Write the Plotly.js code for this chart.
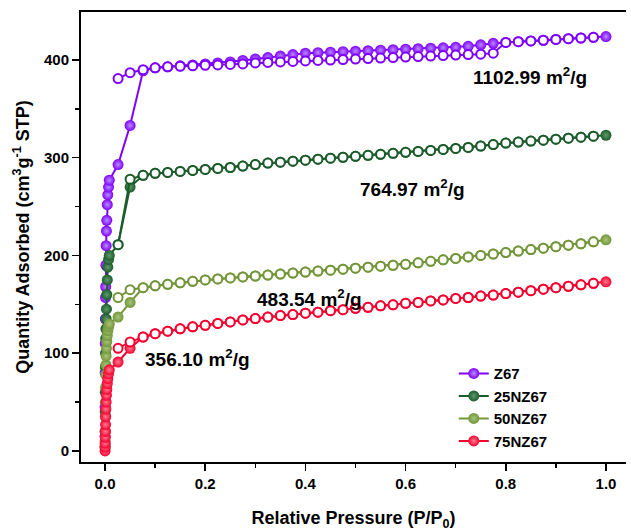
<!DOCTYPE html>
<html>
<head>
<meta charset="utf-8">
<script src="https://cdn.plot.ly/plotly-3.0.1.min.js"></script>
<style>html,body{margin:0;padding:0;background:#fff;}#chart{width:631px;height:531px;}</style>
</head>
<body>
<div id="chart"></div>
<script>
// Relative pressure grids
const lowP = [0.0001,0.0002,0.0003,0.0005,0.0007,0.001,0.0013,0.0017,0.0022,0.0028,0.0035,0.0045,0.0055,0.007,0.0085];
const midP = [0.026,0.05];
const highP = [0.076,0.1,0.125,0.15,0.175,0.2,0.225,0.25,0.275,0.3,0.325,0.35,0.375,0.4,0.425,0.45,0.475,0.5,0.525,0.55,0.575,0.6,0.625,0.65,0.675,0.7,0.725,0.75,0.775,0.8,0.825,0.85,0.875,0.9,0.925,0.95,0.975,1.0];

const names = ["Z67","25NZ67","50NZ67","75NZ67"];
const colors = ["#7f00ff","#1c5c2b","#73963a","#f5002f"];
const centers = ["#b98cff","#5f9a6c","#a8c47a","#ff7a8e"];
const areaLabels = ["1102.99 m<sup>2</sup>/g","764.97 m<sup>2</sup>/g","483.54 m<sup>2</sup>/g","356.10 m<sup>2</sup>/g"];
const labelX = [0.848,0.613,0.409,0.184];
const labelY = [384,269,157,95];

// Z67
const z67AdsLow = [15,45,80,110,135,157,168,190,210,225,236,252,262,270,277];
const z67AdsMid = [293,333];
const z67AdsHigh = [389,392,393,394,395,396,397,398,399.5,401,402.5,404,405.5,407,407.5,408,408.5,409,409.5,410,410.5,411,411.5,412,412.5,413,414,415.5,417,418,418.7,419.5,420.2,421,421.8,422.5,423.2,424];
const z67DesMid = [381,387];
const z67DesHigh = [390,392,393,393.5,394,394.5,395,395.5,396,397,397.5,398,398.5,399,399.5,400,400.5,401,401.5,402,402.5,403,403.5,404,404.5,405,405.5,406,407,418,418.7,419.5,420.2,421,421.8,422.5,423.2];
// 25NZ67
const n25AdsLow = [5,20,40,60,86,100,115,125,135,145,160,175,188,196,200];
const n25AdsMid = [211,270];
const n25High = [282,284,285,286,287,288,289,290,291.5,293,294.5,295.5,296.5,297.5,298.5,299.5,300.5,301.5,302.5,303.5,304.5,305.5,306.5,307.5,308.5,309.5,310.5,312,313.5,315,316,317,318,319,320,321,322,323];
const n25DesMid = [211,278];
// 50NZ67
const n50AdsLow = [3,10,20,35,50,65,78,88,97,105,112,118,123,127,130];
const n50AdsMid = [137,152];
const n50High = [167,169,170.5,172,173.5,175,176,177,178,179,180,181,182,183,184,185,186,187,188,189,190,191,192.5,194,195.5,197,198.5,200,201.5,203,204.5,206,207.5,209,210.5,212,214,216];
const n50DesMid = [157,165];
// 75NZ67
const n75AdsLow = [0,4,8,14,20,27,35,43,50,57,63,69,74,79,83];
const n75AdsMid = [91,105];
const n75High = [116.5,120,122.5,125,127,128.5,130.5,132,134,135.5,137,138.5,139.5,141,142,143.5,144.5,146,147,148.5,149.5,151,152,153.5,154.5,156,157,158.5,159.5,161,162.5,164,165.5,167,168.5,170,171.5,173];
const n75DesMid = [105,111.5];

const ads = [
  z67AdsLow.concat(z67AdsMid, z67AdsHigh),
  n25AdsLow.concat(n25AdsMid, n25High),
  n50AdsLow.concat(n50AdsMid, n50High),
  n75AdsLow.concat(n75AdsMid, n75High)
];
const des = [
  z67DesMid.concat(z67DesHigh),
  n25DesMid.concat(n25High.slice(0,-1)),
  n50DesMid.concat(n50High.slice(0,-1)),
  n75DesMid.concat(n75High.slice(0,-1))
];
const adsX = lowP.concat(midP, highP);
const desX = midP.concat(highP.slice(0,-1));

const traces = [];
for (let i = 0; i < 4; i++) {
  traces.push({
    x: adsX, y: ads[i], name: names[i], type: 'scatter', mode: 'lines+markers',
    line: {color: colors[i], width: 2},
    marker: {color: colors[i], size: 11, symbol: 'circle', gradient: {type: 'radial', color: centers[i]}, line: {width: 0}},
    legendrank: i + 1
  });
  traces.push({
    x: desX, y: des[i], name: names[i] + ' des', type: 'scatter', mode: 'lines+markers', showlegend: false,
    line: {color: colors[i], width: 2},
    marker: {color: '#ffffff', size: 9, symbol: 'circle', line: {color: colors[i], width: 2}}
  });
}

const font = {family: 'Arial, "Liberation Sans", sans-serif', color: '#000', weight: 'bold'};
const annotations = areaLabels.map((t, i) => ({
  x: labelX[i], y: labelY[i], xref: 'x', yref: 'y', text: t, showarrow: false,
  font: Object.assign({}, font, {size: 19})
}));

const layout = {
  width: 631, height: 531,
  margin: {l: 81, r: 5, t: 12, b: 69},
  paper_bgcolor: '#fff', plot_bgcolor: '#fff',
  showlegend: true,
  legend: {x: 0.684, y: 0.233, xanchor: 'left', yanchor: 'top', bgcolor: 'rgba(0,0,0,0)',
           font: Object.assign({}, font, {size: 15}), tracegroupgap: 0, itemwidth: 30},
  xaxis: {
    range: [-0.048, 1.04], tickvals: [0,0.2,0.4,0.6,0.8,1.0], tickformat: '.1f',
    ticks: 'outside', ticklen: 7, tickwidth: 1.5, tickcolor: '#000',
    minor: {dtick: 0.1, tick0: 0, ticks: 'outside', ticklen: 4, tickwidth: 1.5, tickcolor: '#000'},
    showline: true, linewidth: 2, linecolor: '#000', mirror: true,
    showgrid: false, zeroline: false,
    tickfont: Object.assign({}, font, {size: 15}),
    title: {text: 'Relative Pressure (P/P<sub>0</sub>)', font: Object.assign({}, font, {size: 18}), standoff: 22}
  },
  yaxis: {
    range: [-11.3, 449.1], tickvals: [0,100,200,300,400],
    ticks: 'outside', ticklen: 7, tickwidth: 1.5, tickcolor: '#000',
    minor: {dtick: 50, tick0: 0, ticks: 'outside', ticklen: 4, tickwidth: 1.5, tickcolor: '#000'},
    showline: true, linewidth: 2, linecolor: '#000', mirror: false,
    showgrid: false, zeroline: false,
    tickfont: Object.assign({}, font, {size: 15}),
    title: {text: 'Quantity Adsorbed (cm<sup>3</sup>g<sup>-1</sup> STP)', font: Object.assign({}, font, {size: 18}), standoff: 10}
  },
  annotations: annotations
};

Plotly.newPlot('chart', traces, layout, {displayModeBar: false, staticPlot: true});
</script>
</body>
</html>
